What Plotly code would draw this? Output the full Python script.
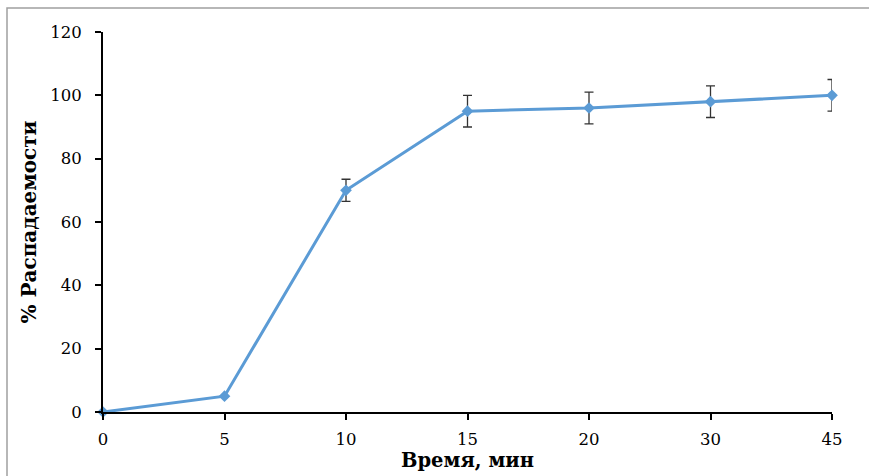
import plotly.graph_objects as go

# Disintegration over time
time_labels = ["0", "5", "10", "15", "20", "30", "45"]
disintegration = [0, 5, 70, 95, 96, 98, 100]
error_vals = [0, 0, 3.5, 5, 5, 5, 5]

x_pos = list(range(len(time_labels)))

L, R, T, B = 103, 37, 32, 64
W, H = 869, 476
pw = W - L - R
ph = H - T - B

fig = go.Figure()
fig.add_trace(go.Scatter(
    x=x_pos,
    y=disintegration,
    mode="lines+markers",
    line=dict(color="#5B9BD5", width=3),
    marker=dict(symbol="diamond", size=9, color="#5B9BD5"),
    error_y=dict(
        type="data",
        array=error_vals,
        visible=True,
        color="#333333",
        thickness=1.3,
        width=4.5,
    ),
    showlegend=False,
    cliponaxis=False,
))

font_family = "DejaVu Serif"

fig.update_layout(
    width=W,
    height=H,
    margin=dict(l=L, r=R, t=T, b=B, autoexpand=False),
    paper_bgcolor="white",
    plot_bgcolor="white",
    font=dict(family=font_family, color="black"),
    xaxis=dict(
        range=[0, len(time_labels) - 1],
        automargin=False,
        tickmode="array",
        tickvals=x_pos,
        ticktext=time_labels,
        showgrid=False,
        zeroline=False,
        showline=True,
        linecolor="black",
        linewidth=2,
        ticks="outside",
        ticklen=6,
        tickwidth=1.5,
        tickcolor="black",
        ticklabelstandoff=5,
        tickfont=dict(size=16.5, family=font_family),
        title=dict(text="<b>Время, мин</b>", font=dict(size=19.5, family=font_family), standoff=4),
    ),
    yaxis=dict(
        range=[0, 120],
        automargin=False,
        tickvals=[0, 20, 40, 60, 80, 100, 120],
        showgrid=False,
        zeroline=False,
        showline=True,
        linecolor="black",
        linewidth=2,
        ticks="outside",
        ticklen=6,
        tickwidth=1.5,
        tickcolor="black",
        ticklabelstandoff=10,
        tickfont=dict(size=16.5, family=font_family),
        title=dict(text="<b>% Распадаемости</b>", font=dict(size=20, family=font_family), standoff=8),
    ),
)

# Chart-area frame
fig.add_shape(
    type="rect",
    xref="paper", yref="paper",
    x0=(7 - L) / pw, x1=(W + 10 - L) / pw,
    y0=-(H + 10 - T - ph) / ph, y1=1 + (T - 8) / ph,
    line=dict(color="#A0A0A0", width=1.5),
    fillcolor="rgba(0,0,0,0)",
    layer="below",
)

fig.write_html("out.html")
